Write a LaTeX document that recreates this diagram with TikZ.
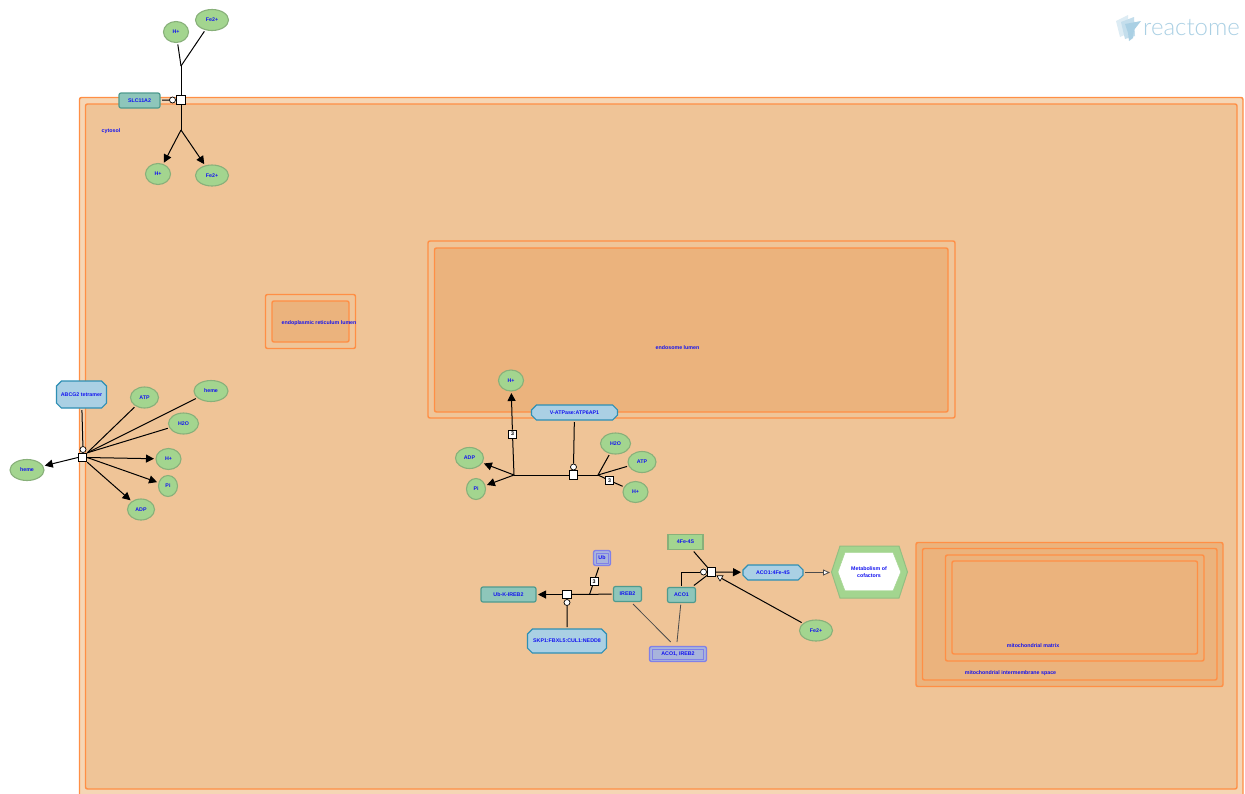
\documentclass[tikz,border=0pt]{standalone}
\usepackage{fontspec}
\setmainfont{Liberation Sans}
\newfontfamily\logofont{Lato Light}
\usetikzlibrary{arrows.meta,shapes.geometric,shapes.misc}
\definecolor{cmpline}{HTML}{FF8F45}
\definecolor{cmpa}{HTML}{F5D6B5}
\definecolor{cmpb}{HTML}{EFC497}
\definecolor{cmpc}{HTML}{EFC599}
\definecolor{cmpd}{HTML}{EBB37D}
\definecolor{chemf}{HTML}{A3D58F}
\definecolor{chemd}{HTML}{88B07A}
\definecolor{protf}{HTML}{8EC6BA}
\definecolor{protd}{HTML}{4E9A8E}
\definecolor{cplxf}{HTML}{AAD0E4}
\definecolor{cplxd}{HTML}{2E8FB4}
\definecolor{setf}{HTML}{A8B4DC}
\definecolor{setd}{HTML}{8080E8}
\definecolor{txt}{HTML}{1414F0}
\tikzset{
  lblbase/.style={text=txt,font=\fontsize{5.3}{6.7}\selectfont\bfseries,inner sep=0pt,align=center},
  lbl/.style={lblbase,text height=3.8pt,text depth=0pt},
  cmp/.style={draw=cmpline,line width=1.45pt,rounded corners=2pt},
  chem/.style={lbl,ellipse,draw=chemd,fill=chemf,line width=1.1pt,inner sep=0pt,outer sep=2pt},
  chembox/.style={lbl,rectangle,draw=chemd,fill=chemf,line width=1.3pt,outer sep=2pt},
  prot/.style={lbl,rectangle,rounded corners=2pt,draw=protd,fill=protf,line width=1.2pt,outer sep=2pt},
  cplx/.style={lbl,chamfered rectangle,chamfered rectangle xsep=3pt,chamfered rectangle ysep=3pt,chamfered rectangle corners={north west,north east,south west,south east},draw=cplxd,fill=cplxf,line width=1.2pt,outer sep=2pt},
  rxn/.style={rectangle,draw=black,fill=white,line width=.8pt,minimum size=8.5pt,inner sep=0pt},
  stoich/.style={lbl,text=black,rectangle,draw=black,fill=white,line width=.7pt,minimum size=8pt,inner sep=0pt},
  catal/.style={circle,draw=black,fill=white,line width=.7pt,minimum size=6pt,inner sep=0pt},
  edge/.style={black,line width=1pt},
  prod/.style={edge,-{Triangle[length=8pt,width=8pt]}},
  reg/.style={draw=black!70,line width=.8pt},
  junc/.style={coordinate}
}
\begin{document}
\begin{tikzpicture}[x=1pt,y=-1pt]
\useasboundingbox (0,0) rectangle (1245,793);
\fill[white] (0,0) rectangle (1245,793);
% logo
\fill[cplxf!40] (1116,21) -- (1128,15) -- (1129,33) -- (1120,37) -- cycle;
\fill[cplxf!70] (1121,22) -- (1134,17) -- (1135,36) -- (1125,39) -- cycle;
\fill[cplxf] (1125,24) -- (1141,21) -- (1134,30) -- (1133,38) -- (1129,41) -- (1128,33) -- cycle;
\node[text=cplxf,font=\logofont\fontsize{24}{26}\selectfont,inner sep=0pt,anchor=west] (logo) at (1143,28) {reactome};
% compartments
\fill[cmpa,rounded corners=2pt] (79.5,97.5) rectangle (1243,800);
\draw[cmp] (79.5,800) -- (79.5,97.5) -- (1243,97.5) -- (1243,800);
\draw[cmp,fill=cmpb] (85.5,104) rectangle (1237,789);
\draw[cmp,fill=cmpc] (428,241) rectangle (955,418);
\draw[cmp,fill=cmpd] (434.5,248) rectangle (948,412);
\draw[cmp,fill=cmpc] (265.5,294.5) rectangle (355.5,348.5);
\draw[cmp,fill=cmpd] (272,301) rectangle (349,342);
\draw[cmp,fill=cmpd] (916,542.5) rectangle (1223,686.5);
\draw[cmp,fill=cmpd] (922.5,548.5) rectangle (1217,680);
\draw[cmp,fill=cmpd] (945.5,555) rectangle (1204,661);
\draw[cmp,fill=cmpd] (952,561) rectangle (1197.5,654);
\node[lbl] (cytosol) at (111,130.5) {cytosol};
\node[lbl] (erl) at (319,322.5) {endoplasmic reticulum lumen};
\node[lbl] (eel) at (677.5,347.5) {endosome lumen};
\node[lbl] (mm) at (1033,645.5) {mitochondrial matrix};
\node[lbl] (mim) at (1010.5,672.5) {mitochondrial intermembrane space};
% SLC11A2
\node[chem,minimum width=25pt,minimum height=21pt] (h1) at (176,32) {H+};
\node[chem,minimum width=33pt,minimum height=21pt] (fe1) at (212,20) {Fe2+};
\node[prot,minimum width=41pt,minimum height=15pt] (slc) at (139.5,100.5) {SLC11A2};
\node[rxn] (r1) at (181,100) {};
\node[catal] (c1) at (172.5,100) {};
\node[junc] (j1a) at (181,66) {};
\node[junc] (j1b) at (181,130) {};
\node[chem,minimum width=25pt,minimum height=21pt] (h2) at (158,174) {H+};
\node[chem,minimum width=33pt,minimum height=21pt] (fe2) at (212,175.5) {Fe2+};
\draw[edge] (h1) -- (j1a);
\draw[edge] (fe1) -- (j1a);
\draw[edge] (j1a) -- (r1);
\draw[edge] (r1) -- (j1b);
\draw[prod] (j1b) -- (h2);
\draw[prod] (j1b) -- (fe2);
\draw[edge] (slc) -- (c1);
% ABCG2
\node[cplx,minimum width=50pt,minimum height=27pt] (abc) at (81.5,394.5) {ABCG2 tetramer};
\node[rxn] (r2) at (82.5,457.5) {};
\node[catal] (c2) at (83,449.5) {};
\node[chem,minimum width=28pt,minimum height=21pt] (atp2) at (144.5,397.5) {ATP};
\node[chem,minimum width=34pt,minimum height=21pt] (heme2) at (211,391) {heme};
\node[chem,minimum width=30pt,minimum height=21pt] (h2o2) at (183.5,423.5) {H2O};
\node[chem,minimum width=25pt,minimum height=21pt] (h3) at (168.5,459) {H+};
\node[chem,minimum width=19pt,minimum height=21pt] (pi2) at (168,486) {Pi};
\node[chem,minimum width=27pt,minimum height=21pt] (adp2) at (141,509.5) {ADP};
\node[chem,minimum width=34pt,minimum height=21pt] (heme1) at (27,470) {heme};
\draw[edge] (atp2) -- (r2.north east);
\draw[edge] (heme2) -- (r2.north east);
\draw[edge] (h2o2) -- (r2.north east);
\draw[prod] (r2.east) -- (h3);
\draw[prod] (r2.east) -- (pi2);
\draw[prod] (r2.south east) -- (adp2);
\draw[prod] (r2.west) -- (heme1);
\draw[edge] (abc) -- (c2);
% V-ATPase
\node[chem,minimum width=25pt,minimum height=21pt] (h4) at (511,380.5) {H+};
\node[cplx,minimum width=86pt,minimum height=15pt] (vat) at (574.5,412.5) {V-ATPase:ATP6AP1};
\node[chem,minimum width=30pt,minimum height=21pt] (h2o3) at (615.5,443.5) {H2O};
\node[chem,minimum width=28pt,minimum height=21pt] (atp3) at (642,462) {ATP};
\node[chem,minimum width=25pt,minimum height=21pt] (h5) at (635.5,492) {H+};
\node[chem,minimum width=28pt,minimum height=21pt] (adp3) at (469.5,458) {ADP};
\node[chem,minimum width=19pt,minimum height=21pt] (pi3) at (476,489) {Pi};
\node[rxn] (r3) at (573.5,475) {};
\node[catal] (c3) at (573.5,467) {};
\node[junc] (j3a) at (514,475) {};
\node[junc] (j3b) at (598,475) {};
\node[stoich] (s3a) at (512.5,434) {3};
\node[stoich] (s3b) at (609.5,480.5) {3};
\draw[edge] (j3a) -- (r3);
\draw[edge] (r3) -- (j3b);
\draw[edge] (j3b) -- (h2o3);
\draw[edge] (j3b) -- (atp3);
\draw[edge] (j3b) -- (s3b);
\draw[edge] (s3b) -- (h5);
\draw[edge] (j3a) -- (s3a);
\draw[prod] (s3a) -- (h4);
\draw[prod] (j3a) -- (adp3);
\draw[prod] (j3a) -- (pi3);
\draw[edge] (vat) -- (c3);
% IREB2
\node[prot,minimum width=55pt,minimum height=15pt] (ub) at (508.5,594.5) {Ub-K-IREB2};
\node[prot,minimum width=28pt,minimum height=15pt] (ireb) at (627.5,594) {IREB2};
\node[rxn] (r4) at (567,594.5) {};
\node[catal] (c4) at (567,602.5) {};
\node[cplx,minimum width=79pt,minimum height=24pt] (skp) at (567,641) {SKP1:FBXL5:CUL1:NEDD8};
\node[junc] (j4) at (589.5,594.5) {};
\node[stoich] (s4) at (594,581.5) {3};
\node[draw=setd,fill=setf,line width=1.3pt,rounded corners=2pt,minimum width=17pt,minimum height=15pt,outer sep=2pt,inner sep=0pt] (ubs) at (602,558) {};
\node[lbl,draw=setd,line width=.7pt,minimum width=12pt,minimum height=10pt] (ubi) at (602,558) {Ub};
\node[draw=setd,fill=setf,line width=1.3pt,rounded corners=2pt,minimum width=57pt,minimum height=15pt,outer sep=2pt,inner sep=0pt] (set) at (678,654) {};
\node[lbl,draw=setd,line width=.7pt,minimum width=51pt,minimum height=10pt] (seti) at (678,654) {ACO1, IREB2};
\coordinate (irebout) at (633,604);
\coordinate (setin) at (670.7,642);
\coordinate (acoout) at (680.7,604.7);
\coordinate (setinb) at (677,642);
\draw[edge] (ireb) -- (r4);
\draw[prod] (r4) -- (ub);
\draw[edge] (skp) -- (c4);
\draw[edge] (j4) -- (s4);
\draw[edge] (s4) -- (ubs);
\draw[reg] (irebout) -- (setin);
% ACO1
\node[chembox,minimum width=35pt,minimum height=15pt] (fes) at (685.5,542) {4Fe-4S};
\node[prot,minimum width=28pt,minimum height=15pt] (aco) at (681.5,595) {ACO1};
\node[rxn] (r5) at (711.5,572) {};
\node[catal] (c5) at (703.5,572) {};
\node[cplx,minimum width=60pt,minimum height=15pt] (acof) at (773,572.5) {ACO1:4Fe-4S};
\node[chem,minimum width=33pt,minimum height=21pt] (fe3) at (816,630.5) {Fe2+};
\node[regular polygon,regular polygon sides=3,shape border rotate=180,draw=black,fill=white,line width=.6pt,minimum size=7pt,inner sep=0pt] (t5) at (720,577.5) {};
\draw[reg] (acoout) -- (setinb);
\draw[edge] (fes) -- (r5);
\draw[edge] (aco) -- (r5);
\draw[edge] (aco.north) |- (c5);
\draw[prod] (r5) -- (acof);
\draw[edge] (fe3) -- (t5);
% Pathway
\path[draw=chemd!60!chemf,fill=chemf,line width=1pt] (831.5,572) -- (840,546) -- (899,546) -- (907.5,572) -- (899,598) -- (840,598) -- cycle;
\path[fill=white,draw=chemf] (838,572) -- (845,552.7) -- (893,552.7) -- (900.7,572) -- (893,590.7) -- (845,590.7) -- cycle;
\node[lblbase,minimum width=60pt,minimum height=36pt] (path) at (869,572) {Metabolism of\\cofactors};
\draw[reg,-{Triangle[open,length=7pt,width=6pt,fill=white]}] (acof) -- (830,572.5);
\end{tikzpicture}
\end{document}
